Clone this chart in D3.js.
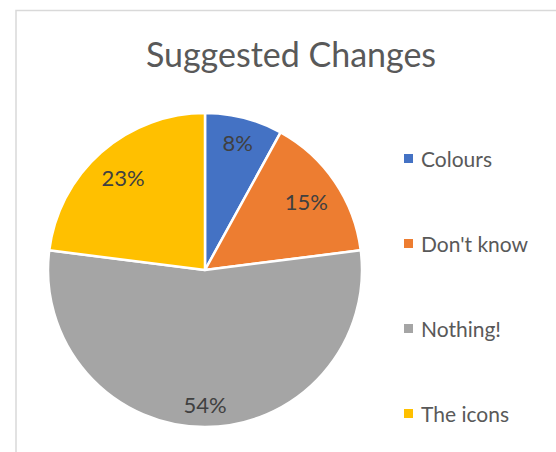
<!DOCTYPE html>
<html>
<head>
<meta charset="utf-8">
<script src="https://cdn.jsdelivr.net/npm/d3@7"></script>
<style>
  html, body { margin: 0; padding: 0; background: #fff; }
  svg { display: block; }
</style>
</head>
<body>
<svg id="chart" width="556" height="452"></svg>
<script>
// Survey answers and their shares (percent)
const categories = ["Colours", "Don't know", "Nothing!", "The icons"];
const shares = [8, 15, 54, 23];
const colours = ["#4472C4", "#ED7D31", "#A5A5A5", "#FFC000"];
const title = "Suggested Changes";

const svg = d3.select("#chart");
const W = 556, H = 452;
const FONT = "Lato, 'Open Sans', sans-serif";

// chart area frame
svg.append("rect")
  .attr("x", 16).attr("y", 10.5)
  .attr("width", W).attr("height", H)
  .attr("fill", "#fff")
  .attr("stroke", "#d9d9d9").attr("stroke-width", 1.5);

svg.append("text")
  .attr("x", 291).attr("y", 67)
  .attr("text-anchor", "middle")
  .attr("font-family", FONT).attr("font-size", 34)
  .attr("fill", "#595959")
  .text(title);

// pie
const cx = 205, cy = 270, r = 157;
const data = categories.map((c, i) => ({ name: c, value: shares[i], colour: colours[i] }));
const pie = d3.pie().value(d => d.value).sort(null);
const arcs = pie(data);
const arc = d3.arc().innerRadius(0).outerRadius(r);

const g = svg.append("g").attr("transform", `translate(${cx},${cy})`);
g.selectAll("path.slice").data(arcs).join("path")
  .attr("class", "slice")
  .attr("d", arc)
  .attr("fill", d => d.data.colour)
  .attr("stroke", "#fff").attr("stroke-width", 2.5)
  .attr("stroke-linejoin", "round");

// data labels placed at the inside end of each slice
const labelSize = 22;
const pad = 10;
g.selectAll("text.lbl").data(arcs).join("text")
  .attr("class", "lbl")
  .attr("font-family", FONT).attr("font-size", labelSize)
  .attr("fill", "#404040")
  .attr("text-anchor", "middle")
  .attr("dominant-baseline", "central")
  .text(d => d.data.value + "%")
  .each(function (d) {
    const bb = this.getBBox();
    const hw = bb.width / 2, hh = 11;
    const a = (d.startAngle + d.endAngle) / 2;
    const ux = Math.sin(a), uy = -Math.cos(a);
    const sx = ux >= 0 ? 1 : -1, sy = uy >= 0 ? 1 : -1;
    let dist = 0;
    for (let t = 0; t < r; t += 0.5) {
      const px = ux * t + sx * hw, py = uy * t + sy * hh;
      if (Math.hypot(px, py) > r - pad) break;
      dist = t;
    }
    d3.select(this).attr("x", ux * dist).attr("y", uy * dist);
  });

// legend
const legendY = d3.scalePoint().domain(categories).range([158.5, 413.5]);
const lg = svg.append("g");
categories.forEach((c, i) => {
  const y = legendY(c);
  lg.append("rect")
    .attr("x", 404).attr("y", y - 4.5)
    .attr("width", 9).attr("height", 9)
    .attr("fill", colours[i]);
  lg.append("text")
    .attr("x", 421).attr("y", y)
    .attr("dominant-baseline", "central")
    .attr("font-family", FONT).attr("font-size", 21)
    .attr("fill", "#595959")
    .text(c);
});
</script>
</body>
</html>
